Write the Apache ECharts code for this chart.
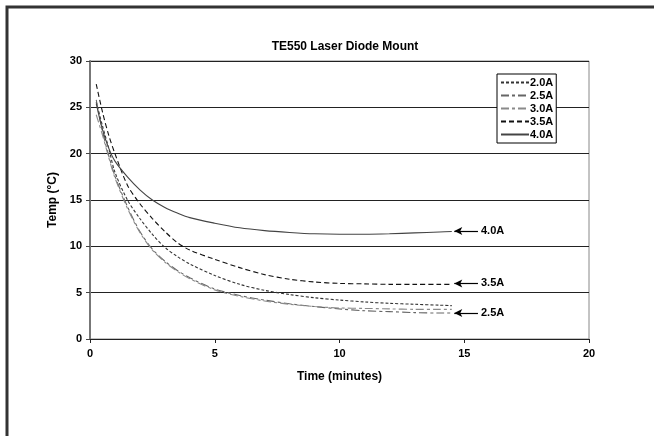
<!DOCTYPE html>
<html>
<head>
<meta charset="utf-8">
<script src="https://cdn.jsdelivr.net/npm/echarts@6/dist/echarts.min.js"></script>
<style>
  html, body { margin: 0; padding: 0; background: #fff; }
  #myChart { width: 654px; height: 436px; }
</style>
</head>
<body>
<div id="myChart"></div>
<script>
// time in minutes
var time = [0.25, 0.5, 0.75, 1, 1.5, 2, 2.5, 3, 3.5, 4, 5, 6, 7, 8, 9, 10, 11, 12, 13, 14, 14.5];

// temperature (°C) per drive current
var temp20 = [25.6, 23.0, 20.6, 18.0, 15.0, 13.0, 11.3, 9.9, 8.9, 8.1, 6.85, 5.9, 5.25, 4.8, 4.45, 4.2, 4.0, 3.85, 3.75, 3.65, 3.6];
var temp25 = [25.8, 22.4, 19.8, 17.6, 14.3, 11.6, 9.7, 8.4, 7.4, 6.6, 5.4, 4.7, 4.2, 3.8, 3.5, 3.25, 3.05, 2.95, 2.85, 2.8, 2.8];
var temp30 = [24.2, 22.0, 19.6, 17.4, 14.1, 11.5, 9.6, 8.3, 7.3, 6.5, 5.3, 4.6, 4.1, 3.75, 3.5, 3.35, 3.3, 3.25, 3.2, 3.2, 3.2];
var temp35 = [27.5, 24.5, 22.0, 20.0, 16.6, 14.6, 13.0, 11.6, 10.4, 9.6, 8.6, 7.7, 6.95, 6.45, 6.15, 6.0, 5.95, 5.9, 5.9, 5.9, 5.9];
var temp40 = [25.4, 22.6, 20.6, 19.2, 17.5, 16.1, 15.0, 14.2, 13.6, 13.1, 12.5, 12.0, 11.7, 11.5, 11.35, 11.3, 11.3, 11.35, 11.45, 11.55, 11.6];

var seriesNames = ["2.0A", "2.5A", "3.0A", "3.5A", "4.0A"];

// arrow notes on the right of the curves
var noteNames = ["4.0A", "3.5A", "2.5A"];
var noteTemps = [11.65, 6.0, 2.8];
var noteFrom = 14.6;
var noteTo = 15.55;

function pairs(ys) {
	return time.map(function (t, i) {
		return [t, ys[i]];
	});
}

var styles = [
	{ color: "#333", type: [3, 2] },
	{ color: "#666", type: [8, 3, 3, 3] },
	{ color: "#8a8a8a", type: [8, 3, 3, 3] },
	{ color: "#111", type: [5, 3] },
	{ color: "#444", type: "solid" },
];
var allData = [temp20, temp25, temp30, temp35, temp40];

var series = seriesNames.map(function (name, i) {
	return {
		name: name,
		type: "line",
		data: pairs(allData[i]),
		symbol: "none",
		smooth: 0.3,
		lineStyle: { color: styles[i].color, width: 1.1, type: styles[i].type },
		itemStyle: { color: styles[i].color },
		z: 3,
	};
});

// notes as mark lines on an empty series
series.push({
	name: "notes",
	type: "line",
	data: [],
	silent: true,
	markLine: {
		silent: true,
		symbol: ["arrow", "none"],
		symbolSize: [6, 8],
		lineStyle: { color: "#000", width: 1.2, type: "solid" },
		label: {
			show: true,
			position: "end",
			distance: 3,
			color: "#000",
			fontWeight: "bold",
			fontSize: 11,
			fontFamily: "Liberation Sans, Arial",
			formatter: function (p) {
				return p.name;
			},
		},
		data: noteNames.map(function (n, i) {
			return [
				{ name: n, coord: [noteFrom, noteTemps[i]] },
				{ coord: [noteTo, noteTemps[i]] },
			];
		}),
	},
});

var myChart = echarts.init(document.getElementById("myChart"));
myChart.setOption({
	animation: false,
	backgroundColor: "#fff",
	textStyle: { fontFamily: "Liberation Sans, Arial" },
	title: {
		text: "TE550 Laser Diode Mount",
		left: 340,
		textAlign: "center",
		top: 36,
		textStyle: { fontSize: 12, fontWeight: "bold", color: "#000" },
	},
	graphic: [
		{
			type: "polyline",
			shape: { points: [[7, 436], [7, 7], [654, 7]] },
			style: { stroke: "#333", lineWidth: 3, fill: null },
			z: 10,
		},
	],
	legend: {
		data: seriesNames,
		orient: "vertical",
		left: 497,
		top: 74,
		padding: [3, 3, 3, 3],
		itemGap: 2,
		itemWidth: 28,
		itemHeight: 10,
		backgroundColor: "#fff",
		borderColor: "#000",
		borderWidth: 1,
		borderRadius: 0,
		itemStyle: { color: "rgba(0,0,0,0)", borderWidth: 0, opacity: 0 },
		textStyle: { fontSize: 11, fontWeight: "bold", color: "#000", padding: [0, 0, 0, -4] },
	},
	grid: {
		left: 90,
		right: 65,
		top: 61,
		bottom: 97,
		show: true,
		borderColor: "#888",
		borderWidth: 1,
	},
	xAxis: {
		type: "value",
		min: 0,
		max: 20,
		interval: 5,
		name: "Time (minutes)",
		nameLocation: "middle",
		nameGap: 32,
		nameTextStyle: { fontSize: 12, fontWeight: "bold", color: "#000" },
		axisLine: { lineStyle: { color: "#222", width: 1 } },
		axisTick: { show: true, length: 4, lineStyle: { color: "#222" } },
		axisLabel: { fontSize: 11, fontWeight: "bold", color: "#000", margin: 9 },
		splitLine: { show: false },
	},
	yAxis: {
		type: "value",
		min: 0,
		max: 30,
		interval: 5,
		name: "Temp (°C)",
		nameLocation: "middle",
		nameGap: 30,
		nameTextStyle: { fontSize: 12, fontWeight: "bold", color: "#000" },
		axisLine: { show: true, lineStyle: { color: "#777", width: 2 } },
		axisTick: { show: true, length: 4, lineStyle: { color: "#444" } },
		axisLabel: { fontSize: 11, fontWeight: "bold", color: "#000", margin: 8 },
		splitLine: { show: true, lineStyle: { color: "#222", width: 1 } },
	},
	series: series,
});
</script>
</body>
</html>
